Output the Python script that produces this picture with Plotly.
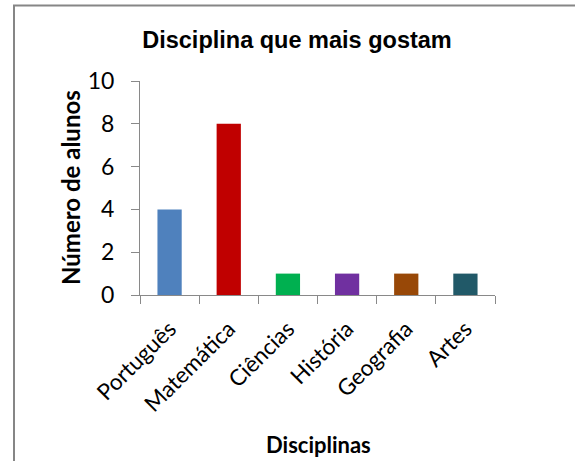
import plotly.graph_objects as go

categories = ["Português", "Matemática", "Ciências", "História", "Geografia", "Artes"]
values = [4, 8, 1, 1, 1, 1]
colors = ["#4F81BD", "#C00000", "#00B050", "#7030A0", "#984807", "#215968"]
y_ticks = [0, 2, 4, 6, 8, 10]

W, H = 575, 461
L, T = 140, 81
R = W - 495
B = H - 295
pw, ph = W - L - R, H - T - B


def px(x):
    return (x - L) / pw


def py(y):
    return (H - B - y) / ph


fig = go.Figure(go.Bar(x=categories, y=values, marker_color=colors, marker_line_width=0))

fig.update_layout(
    width=W, height=H,
    margin=dict(l=L, r=R, t=T, b=B),
    paper_bgcolor="white", plot_bgcolor="white",
    bargap=0.59,
    showlegend=False,
    title=dict(text="<b>Disciplina que mais gostam</b>", x=297 / W, xanchor="center",
               y=1 - 40 / H, yanchor="middle", yref="container",
               font=dict(family="Liberation Sans, Arial", size=23.5, color="black")),
    font=dict(family="Lato, Carlito, sans-serif", color="black"),
)
fig.update_yaxes(range=[0, 10], tickvals=y_ticks, showgrid=False, showline=True,
                 linecolor="#898989", linewidth=1, ticks="outside", ticklen=8,
                 tickcolor="#898989", tickfont=dict(size=23), zeroline=False,
                 ticklabelstandoff=12)
fig.update_xaxes(showgrid=False, showline=True, linecolor="#898989", linewidth=1,
                 ticks="outside", ticklen=8, tickcolor="#898989", tickson="boundaries",
                 tickangle=-45, tickfont=dict(size=22.5), ticklabelstandoff=11)

fig.add_annotation(text="<b>Número de alunos</b>", textangle=-90, showarrow=False,
                   xref="paper", yref="paper", x=px(70), y=py(188),
                   xanchor="center", yanchor="middle", font=dict(size=24))
fig.add_annotation(text="<b>Disciplinas</b>", showarrow=False,
                   xref="paper", yref="paper", x=px(318), y=py(444),
                   xanchor="center", yanchor="middle", font=dict(size=22))

fig.add_shape(type="rect", xref="paper", yref="paper",
              x0=px(14), x1=px(600), y0=py(490), y1=py(5.5),
              line=dict(color="#868686", width=2), fillcolor="rgba(0,0,0,0)", layer="below")

fig.write_html("out.html", config={"displayModeBar": False},
               post_script="document.body.style.margin='0';document.body.style.overflow='hidden';")
